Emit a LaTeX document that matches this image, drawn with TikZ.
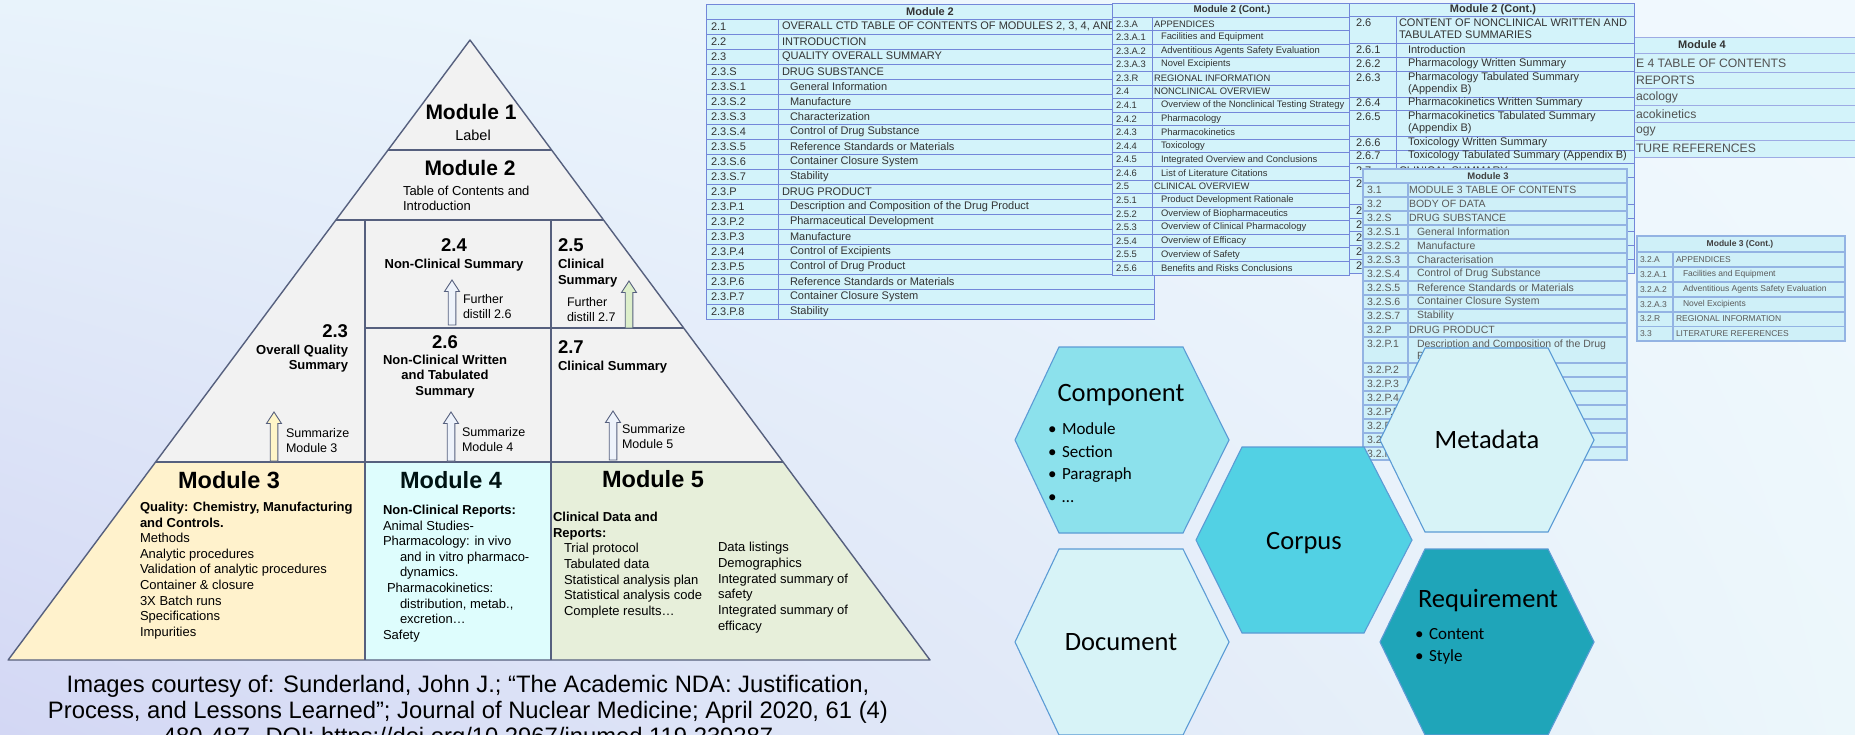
\documentclass[tikz,border=0pt]{standalone}
\usepackage{fontspec}
\setmainfont{Liberation Sans}
\newfontfamily\calfont{Carlito}
\usetikzlibrary{shadings}
\newcommand\fsz[2]{\fontsize{#1}{#2}\selectfont}
\definecolor{bgTL}{HTML}{E8F3FB}
\definecolor{bgTR}{HTML}{F1F9FE}
\definecolor{bgBL}{HTML}{D3D7F4}
\definecolor{bgBR}{HTML}{ECF7FB}
\definecolor{pyrc}{HTML}{56607E}
\definecolor{pgray}{HTML}{F2F2F2}
\definecolor{mthree}{HTML}{FFF2CC}
\definecolor{mfour}{HTML}{DEFDFD}
\definecolor{mfive}{HTML}{E7EFDA}
\definecolor{arY}{HTML}{FFF6C8}
\definecolor{arW}{HTML}{EEF3FB}
\definecolor{arG}{HTML}{DDEFCB}
\definecolor{tfill}{HTML}{D3F3FA}
\definecolor{tline}{HTML}{7387D9}
\definecolor{ttext}{HTML}{333333}
\definecolor{tthfill}{HTML}{CFF0F8}
\definecolor{tthline}{HTML}{93B3E3}
\definecolor{tthtext}{HTML}{5A5A5A}
\definecolor{hxC}{HTML}{8CE1EC}
\definecolor{hxK}{HTML}{52D1E4}
\definecolor{hxL}{HTML}{D7F3F7}
\definecolor{hxR}{HTML}{1FA5B9}
\definecolor{hxline}{HTML}{5B9BD5}
\newcommand\blkup[5]{% name, x, ybottom, ytop, fill
  \filldraw[fill=#5, draw=pyrc, line width=0.9pt] (#2-3.8,#3) -- (#2-3.8,#4+11.5) -- (#2-7.5,#4+11.5) -- (#2,#4) coordinate (#1) -- (#2+7.5,#4+11.5) -- (#2+3.8,#4+11.5) -- (#2+3.8,#3) -- cycle;}
\tikzset{
  tx/.style={inner sep=0pt, outer sep=0pt, text=black},
  pline/.style={draw=pyrc, line width=1.4pt},
  bodyt/.style={tx, font=\fsz{13}{15.6}, align=left, anchor=north west},
  boldt/.style={tx, font=\bfseries\fsz{13}{15.5}},
  secnum/.style={tx, font=\bfseries\fsz{18.5}{20}},
  modh/.style={tx, font=\bfseries\fsz{23.5}{26}},
  smallt/.style={tx, font=\fsz{12.5}{15}, align=left, anchor=north west},
  ttwo/.style={tx, text=ttext, font=\fsz{11}{12}, anchor=west},
  tcone/.style={tx, text=ttext, font=\fsz{9.4}{11}, anchor=west},
  tctwo/.style={tx, text=ttext, font=\fsz{11}{12}, anchor=west, align=left},
  tthr/.style={tx, text=tthtext, font=\fsz{10.5}{12}, anchor=west, align=left},
  tfour/.style={tx, text=black!68, font=\fsz{12.2}{13}, anchor=west},
  tl/.style={draw=tline, line width=0.8pt},
  tlt/.style={draw=tthline, line width=1.3pt},
  hexs/.style={draw=hxline, line width=1.1pt},
  hxt/.style={tx, font=\calfont\fsz{26.5}{30}, anchor=base},
  hxbul/.style={tx, font=\calfont\fsz{17}{22.4}, align=left, anchor=north west}
}
\begin{document}
\begin{tikzpicture}[x=1pt,y=-1pt]
\useasboundingbox (0,0) rectangle (1855,734);
\clip (0,0) rectangle (1855,734);
\shade[upper left=bgTL, upper right=bgTR, lower left=bgBL, lower right=bgBR] (0,0) rectangle (1855,734);

% ================= PYRAMID =================
\fill[pgray] (470,40) -- (155.6,462) -- (783.1,462) -- cycle;
\fill[mthree] (155.6,462) -- (365,462) -- (365,660) -- (8.1,660) -- cycle;
\fill[mfour] (365,462) rectangle (551,660);
\fill[mfive] (551,462) -- (783.1,462) -- (930,660) -- (551,660) -- cycle;
\draw[pline] (388.1,150) -- (551.6,150);
\draw[pline] (335.9,220) -- (603.6,220);
\draw[pline] (155.6,462) -- (783.1,462);
\draw[pline] (365,220) -- (365,660);
\draw[pline] (551,220) -- (551,660);
\draw[pline] (365,328) -- (683.7,328);
\draw[pline, line join=round] (470,40) -- (8.1,660) -- (930,660) -- cycle;

\node[tx, font=\bfseries\fsz{21}{24}] (m1) at (471,112) {Module 1};
\node[tx, font=\fsz{14.5}{17}] (m1l) at (473,135) {Label};
\node[tx, font=\bfseries\fsz{21}{24}] (m2) at (470,168) {Module 2};
\node[bodyt, font=\fsz{13}{15}] (m2t) at (403,186) {Table of Contents and\\Introduction};

\node[secnum, anchor=east] (s23) at (348,331) {2.3};
\node[boldt, align=right, anchor=north east] (s23t) at (348,345) {Overall Quality\\Summary};
\blkup{a23tip}{274}{461}{412}{arY}
\node[smallt] (a23) at (286,428) {Summarize\\Module 3};

\node[secnum] (s24) at (454,245) {2.4};
\node[boldt, anchor=north] (s24t) at (454,259) {Non-Clinical Summary};
\blkup{a24tip}{452}{325}{280}{arW}
\node[smallt] (a24) at (463,294) {Further\\distill 2.6};

\node[secnum, anchor=west] (s25) at (558,245) {2.5};
\node[boldt, font=\bfseries\fsz{13}{16}, align=left, anchor=north west] (s25t) at (558,259) {Clinical\\Summary};
\blkup{a25tip}{629}{328}{281}{arG}
\node[smallt] (a25) at (567,297) {Further\\distill 2.7};

\node[secnum] (s26) at (445,342) {2.6};
\node[boldt, align=center, anchor=north] (s26t) at (445,355) {Non-Clinical Written\\and Tabulated\\Summary};
\blkup{a26tip}{451}{461}{412}{arW}
\node[smallt] (a26) at (462,427) {Summarize\\Module 4};

\node[secnum, anchor=west] (s27) at (558,347) {2.7};
\node[boldt, anchor=west] (s27t) at (558,367) {Clinical Summary};
\blkup{a27tip}{613}{460}{411}{arW}
\node[smallt] (a27) at (622,424) {Summarize\\Module 5};

\node[modh] (m3h) at (229,480) {Module 3};
\node[bodyt] (m3t) at (140,502) {\textbf{Quality: Chemistry, Manufacturing}\\\textbf{and Controls.}\\Methods\\Analytic procedures\\Validation of analytic procedures\\Container \& closure\\3X Batch runs\\Specifications\\Impurities};

\node[modh, text=black!85!teal] (m4h) at (451,480) {Module 4};
\node[bodyt] (m4t) at (383,505) {\textbf{Non-Clinical Reports:}\\Animal Studies-\\Pharmacology: in vivo\\\hspace*{17pt}and in vitro pharmaco-\\\hspace*{17pt}dynamics.\\\hspace*{4pt}Pharmacokinetics:\\\hspace*{17pt}distribution, metab.,\\\hspace*{17pt}excretion…\\Safety};

\node[modh] (m5h) at (653,479) {Module 5};
\node[bodyt, font=\fsz{13}{15.7}] (m5t) at (553,512) {\textbf{Clinical Data and}\\\textbf{Reports:}\\\hspace*{11pt}Trial protocol\\\hspace*{11pt}Tabulated data\\\hspace*{11pt}Statistical analysis plan\\\hspace*{11pt}Statistical analysis code\\\hspace*{11pt}Complete results…};
\node[bodyt, font=\fsz{13}{15.8}] (m5r) at (718,542) {Data listings\\Demographics\\Integrated summary of\\safety\\Integrated summary of\\efficacy};

% caption
\node[tx, font=\fsz{23.8}{26}, align=center, anchor=north] (cap) at (468,675.5) {Images courtesy of: Sunderland, John J.; “The Academic NDA: Justification,\\Process, and Lessons Learned”; Journal of Nuclear Medicine; April 2020, 61 (4)\\480-487. DOI: https://doi.org/10.2967/jnumed.119.239287};

% ================= MODULE 4 TABLE (behind) =================
\fill[tfill] (1620,37) rectangle (1860,157);
\foreach \yy in {37,53,72,88,105,122,140,157} \draw[tl, draw=tline!70] (1620,\yy) -- (1860,\yy);
\node[tx, text=ttext, font=\bfseries\fsz{11}{12}] (t4h) at (1702,45) {Module 4};
\foreach \rt/\yy [count=\rn] in {E 4 TABLE OF CONTENTS/63, REPORTS/80, acology/97, acokinetics/114, ogy/131, TURE REFERENCES/148}
  \node[tfour] (t4r\rn) at (1636,\yy) {\rt};

% ================= MODULE 2 TABLE =================
\fill[tfill] (706,4) rectangle (1154,319);
\foreach \yy in {19,34,...,304} \draw[tl] (706,\yy) -- (1154,\yy);
\draw[tl] (778,19) -- (778,319);
\draw[tl] (706,4) rectangle (1154,319);
\node[tx, text=ttext, font=\bfseries\fsz{11}{12}] (t2h) at (930,11.5) {Module 2};
\begin{scope}
\clip (700,0) rectangle (1112,320);
\foreach \rc/\rt/\rk [count=\rn] in {
 2.1/{OVERALL CTD TABLE OF CONTENTS OF MODULES 2, 3, 4, AND 5}/0,
 2.2/INTRODUCTION/0,
 2.3/QUALITY OVERALL SUMMARY/0,
 2.3.S/DRUG SUBSTANCE/0,
 2.3.S.1/General Information/1,
 2.3.S.2/Manufacture/1,
 2.3.S.3/Characterization/1,
 2.3.S.4/Control of Drug Substance/1,
 2.3.S.5/Reference Standards or Materials/1,
 2.3.S.6/Container Closure System/1,
 2.3.S.7/Stability/1,
 2.3.P/DRUG PRODUCT/0,
 2.3.P.1/Description and Composition of the Drug Product/1,
 2.3.P.2/Pharmaceutical Development/1,
 2.3.P.3/Manufacture/1,
 2.3.P.4/Control of Excipients/1,
 2.3.P.5/Control of Drug Product/1,
 2.3.P.6/Reference Standards or Materials/1,
 2.3.P.7/Container Closure System/1,
 2.3.P.8/Stability/1}
{
 \node[ttwo] (t2c\rn) at (711,{11.5+15*\rn}) {\rc};
 \node[ttwo] (t2t\rn) at ({782+8*\rk},{11.5+15*\rn}) {\rt};
}
\end{scope}

% ================= MODULE 2 (CONT.) TABLE 1 =================
\fill[tfill] (1112,3) rectangle (1349,275);
\foreach \k in {0,...,18} \draw[tl] (1112,{17+13.58*\k}) -- (1349,{17+13.58*\k});
\draw[tl] (1152,17) -- (1152,275);
\draw[tl] (1112,3) rectangle (1349,275);
\node[tx, text=ttext, font=\bfseries\fsz{9.8}{11}] (c1h) at (1232,10) {Module 2 (Cont.)};
\foreach \rc/\rt/\rk [count=\rn] in {
 2.3.A/APPENDICES/0,
 2.3.A.1/Facilities and Equipment/1,
 2.3.A.2/Adventitious Agents Safety Evaluation/1,
 2.3.A.3/Novel Excipients/1,
 2.3.R/REGIONAL INFORMATION/0,
 2.4/NONCLINICAL OVERVIEW/0,
 2.4.1/Overview of the Nonclinical Testing Strategy/1,
 2.4.2/Pharmacology/1,
 2.4.3/Pharmacokinetics/1,
 2.4.4/Toxicology/1,
 2.4.5/Integrated Overview and Conclusions/1,
 2.4.6/List of Literature Citations/1,
 2.5/CLINICAL OVERVIEW/0,
 2.5.1/Product Development Rationale/1,
 2.5.2/Overview of Biopharmaceutics/1,
 2.5.3/Overview of Clinical Pharmacology/1,
 2.5.4/Overview of Efficacy/1,
 2.5.5/Overview of Safety/1,
 2.5.6/Benefits and Risks Conclusions/1}
{
 \node[tcone] (c1c\rn) at (1116,{17+13.58*(\rn-0.5)}) {\rc};
 \node[tcone] (c1t\rn) at ({1154+7*\rk},{17+13.58*(\rn-0.5)}) {\rt};
}

% ================= MODULE 2 (CONT.) TABLE 2 =================
\fill[tfill] (1349,3) rectangle (1634,273);
\foreach \yy in {16,43,57,71,97,110,136,150,163,177,204,218,231,245,259} \draw[tl] (1349,\yy) -- (1634,\yy);
\draw[tl] (1396,16) -- (1396,273);
\draw[tl] (1349,3) rectangle (1634,273);
\node[tx, text=ttext, font=\bfseries\fsz{11}{12}] (c2h) at (1493,10) {Module 2 (Cont.)};
\begin{scope}
\clip (1349,0) rectangle (1634,169);
\foreach \rc/\cy/\rt/\tx/\ty [count=\rn] in {
 2.6/23/{CONTENT OF NONCLINICAL WRITTEN AND\\TABULATED SUMMARIES}/1399/29,
 2.6.1/50/Introduction/1408/50,
 2.6.2/64/Pharmacology Written Summary/1408/64,
 2.6.3/78/{Pharmacology Tabulated Summary\\(Appendix B)}/1408/84,
 2.6.4/103/Pharmacokinetics Written Summary/1408/103,
 2.6.5/117/{Pharmacokinetics Tabulated Summary\\(Appendix B)}/1408/123,
 2.6.6/143/Toxicology Written Summary/1408/143,
 2.6.7/156/Toxicology Tabulated Summary (Appendix B)/1408/156,
 2.7/171/CLINICAL SUMMARY/1399/171}
{
 \node[tctwo] (c2c\rn) at (1356,\cy) {\rc};
 \node[tctwo] (c2t\rn) at (\tx,\ty) {\rt};
}
\end{scope}
\foreach \cy [count=\rn] in {184, 211, 224.5, 238, 252, 266}
 \node[tctwo] (c2d\rn) at (1356,\cy) {2};

% ================= MODULE 3 TABLE =================
\fill[tthfill] (1363,169) rectangle (1627,460);
\foreach \yy in {183,197,211,225,239,253,267,281,295,309,323,337,363,377,391,405,419,433,447} \draw[tlt] (1363,\yy) -- (1627,\yy);
\draw[tlt] (1408,183) -- (1408,460);
\draw[tlt] (1363,169) rectangle (1627,460);
\node[tx, text=tthtext!70!black, font=\bfseries\fsz{9.5}{10}] (t3h) at (1488,176) {Module 3};
\foreach \rc/\rt/\rk [count=\rn] in {
 3.1/MODULE 3 TABLE OF CONTENTS/0,
 3.2/BODY OF DATA/0,
 3.2.S/DRUG SUBSTANCE/0,
 3.2.S.1/General Information/1,
 3.2.S.2/Manufacture/1,
 3.2.S.3/Characterisation/1,
 3.2.S.4/Control of Drug Substance/1,
 3.2.S.5/Reference Standards or Materials/1,
 3.2.S.6/Container Closure System/1,
 3.2.S.7/Stability/1,
 3.2.P/DRUG PRODUCT/0}
{
 \node[tthr] (t3c\rn) at (1367,{183+14*(\rn-0.5)}) {\rc};
 \node[tthr] (t3t\rn) at ({1409+8*\rk},{183+14*(\rn-0.5)}) {\rt};
}
\node[tthr] (t3p1) at (1367,344) {3.2.P.1};
\node[tthr, anchor=north west] (t3p1t) at (1417,340) {Description and Composition of the Drug\\Product};
\foreach \rc/\cy [count=\rn] in {3.2.P.2/370, 3.2.P.3/384, 3.2.P.4/398, 3.2.P.5/412, 3.2.P.6/426, 3.2.P.7/440, 3.2.P.8/453.5}
 \node[tthr] (t3q\rn) at (1367,\cy) {\rc};

% ================= MODULE 3 (CONT.) TABLE =================
\fill[tthfill] (1637,236) rectangle (1845,341);
\foreach \yy in {252,267,282,297,312,326.5} \draw[tlt] (1637,\yy) -- (1845,\yy);
\draw[tlt] (1673,252) -- (1673,341);
\draw[tlt] (1637,236) rectangle (1845,341);
\node[tx, text=tthtext!70!black, font=\bfseries\fsz{8.5}{10}] (t3ch) at (1740,244) {Module 3 (Cont.)};
\foreach \rc/\rt/\rk/\yy [count=\rn] in {
 3.2.A/APPENDICES/0/259.5,
 3.2.A.1/Facilities and Equipment/1/274.5,
 3.2.A.2/Adventitious Agents Safety Evaluation/1/289.5,
 3.2.A.3/Novel Excipients/1/304.5,
 3.2.R/REGIONAL INFORMATION/0/319,
 3.3/LITERATURE REFERENCES/0/333.5}
{
 \node[tthr, font=\fsz{8.5}{10}] (t3cc\rn) at (1640,\yy) {\rc};
 \node[tthr, font=\fsz{8.5}{10}] (t3ct\rn) at ({1676+7*\rk},\yy) {\rt};
}

% ================= HEXAGONS =================
\filldraw[hexs, fill=hxC] (1059,347) -- (1183,347) -- (1229,440) -- (1183,533) -- (1059,533) -- (1015,440) -- cycle;
\filldraw[hexs, fill=hxK] (1242,447) -- (1364,447) -- (1412,540) -- (1364,633) -- (1242,633) -- (1196,540) -- cycle;
\filldraw[hexs, fill=hxL] (1425,348) -- (1548,348) -- (1594,440) -- (1548,532) -- (1425,532) -- (1380,440) -- cycle;
\filldraw[hexs, fill=hxL] (1059,549) -- (1183,549) -- (1229,642) -- (1183,735) -- (1059,735) -- (1015,642) -- cycle;
\filldraw[hexs, fill=hxR] (1425,549) -- (1548,549) -- (1594,642) -- (1548,735) -- (1425,735) -- (1380,642) -- cycle;

\node[hxt] (hcomp) at (1121,401.5) {Component};
\node[hxbul] (hcompb) at (1048,423) {\makebox[14pt][l]{•}Module\\\makebox[14pt][l]{•}Section\\\makebox[14pt][l]{•}Paragraph\\\makebox[14pt][l]{•}…};
\node[hxt] (hcorp) at (1304,549.5) {Corpus};
\node[hxt] (hmeta) at (1487,448.5) {Metadata};
\node[hxt] (hdoc) at (1121,650.5) {Document};
\node[hxt] (hreq) at (1488,607.5) {Requirement};
\node[hxbul] (hreqb) at (1415,628) {\makebox[14pt][l]{•}Content\\\makebox[14pt][l]{•}Style};
\end{tikzpicture}
\end{document}
